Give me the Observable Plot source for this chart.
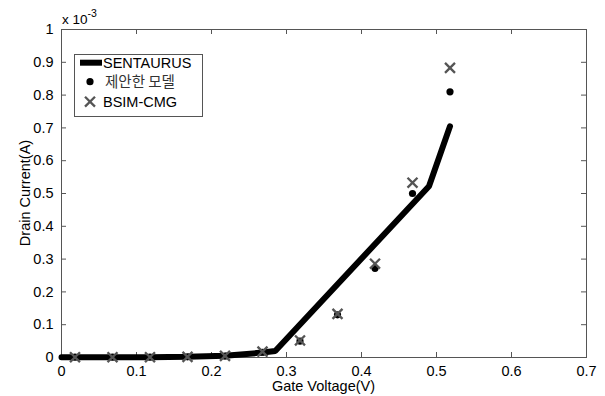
<!DOCTYPE html>
<html><head><meta charset="utf-8">
<script src="https://cdn.jsdelivr.net/npm/d3@7"></script>
<script src="https://cdn.jsdelivr.net/npm/@observablehq/plot@0.6"></script>
<style>
body{margin:0;background:#fff;}
#chart svg{font-family:"Liberation Sans",Arial,sans-serif;}
</style>
</head><body><div id="chart"></div>
<script>
// Gate voltage sample points (V)
const vg = [0.018, 0.068, 0.118, 0.168, 0.218, 0.268, 0.318, 0.368, 0.418, 0.468, 0.518];
// Drain current, units of 1e-3 A
const proposed = [0.001, 0.001, 0.001, 0.002, 0.004, 0.016, 0.05, 0.13, 0.272, 0.5, 0.81];
const bsim     = [0.001, 0.001, 0.001, 0.002, 0.005, 0.018, 0.052, 0.133, 0.286, 0.533, 0.883];
// SENTAURUS curve
const sentVg = [0, 0.018, 0.068, 0.118, 0.168, 0.218, 0.268, 0.285, 0.49, 0.518];
const sentId = [0.001, 0.001, 0.001, 0.001, 0.002, 0.005, 0.015, 0.02, 0.522, 0.705];
// Axes
const xTicks = [0, 0.1, 0.2, 0.3, 0.4, 0.5, 0.6, 0.7];
const yTicks = [0, 0.1, 0.2, 0.3, 0.4, 0.5, 0.6, 0.7, 0.8, 0.9, 1];
const seriesNames = ["SENTAURUS", "제안한 모델", "BSIM-CMG"];
const xLabel = "Gate Voltage(V)";
const yLabel = "Drain Current(A)";

const sent = sentVg.map((v, i) => ({vg: v, id: sentId[i]}));
const prop = vg.map((v, i) => ({vg: v, id: proposed[i]}));
const bs = vg.map((v, i) => ({vg: v, id: bsim[i]}));

const W = 605, H = 396, mL = 61, mR = 19, mT = 29, mB = 39;
const iw = W - mL - mR, ih = H - mT - mB;
const axisColor = "#555";
const FONT = '"Liberation Sans", Arial, sans-serif';

const chart = Plot.plot({
  width: W, height: H,
  marginLeft: mL, marginRight: mR, marginTop: mT, marginBottom: mB,
  style: {fontSize: "14.5px", fontFamily: FONT, background: "#fff", color: "#000"},
  x: {domain: [0, 0.7]},
  y: {domain: [0, 1]},
  marks: [
    Plot.frame({stroke: axisColor, strokeWidth: 1}),
    Plot.tickX(xTicks, {x: d => d, insetTop: ih - 5, stroke: axisColor}),
    Plot.tickX(xTicks, {x: d => d, insetBottom: ih - 5, stroke: axisColor}),
    Plot.tickY(yTicks, {y: d => d, insetRight: iw - 5, stroke: axisColor}),
    Plot.tickY(yTicks, {y: d => d, insetLeft: iw - 5, stroke: axisColor}),
    Plot.axisX({ticks: xTicks, tickSize: 0, tickPadding: 8, tickFormat: d => String(d), label: null}),
    Plot.axisY({ticks: yTicks, tickSize: 0, tickPadding: 8, tickFormat: d => String(d), label: null}),
    Plot.line(sent, {x: "vg", y: "id", stroke: "#000", strokeWidth: 6, strokeLinejoin: "miter"}),
    Plot.dot(prop, {x: "vg", y: "id", r: 3.6, fill: "#000", stroke: "none"}),
    Plot.dot(bs, {x: "vg", y: "id", symbol: "times", r: 4.6, stroke: "#555", strokeWidth: 2.3})
  ]
});
document.getElementById("chart").appendChild(chart);

const svg = d3.select(chart);
// axis labels
svg.append("text").attr("x", mL + iw / 2).attr("y", 391).attr("text-anchor", "middle")
  .attr("font-size", 14.5).attr("font-family", FONT).attr("fill", "#000").text(xLabel);
svg.append("text").attr("transform", `translate(30,${mT + ih / 2}) rotate(-90)`).attr("text-anchor", "middle")
  .attr("font-size", 14.5).attr("font-family", FONT).attr("fill", "#000").text(yLabel);
// exponent
const ex = svg.append("text").attr("x", 62).attr("y", 24).attr("text-anchor", "start")
  .attr("font-size", 13.5).attr("font-family", FONT).attr("fill", "#000");
ex.append("tspan").text("x 10");
ex.append("tspan").attr("dy", -7).attr("font-size", 10.5).text("-3");

// legend
const lg = svg.append("g");
lg.append("rect").attr("x", 74.5).attr("y", 54.5).attr("width", 128).attr("height", 62)
  .attr("fill", "#fff").attr("stroke", axisColor);
const rows = [62.7, 81.7, 101.7];
lg.append("line").attr("x1", 80).attr("x2", 102).attr("y1", rows[0]).attr("y2", rows[0])
  .attr("stroke", "#000").attr("stroke-width", 6);
lg.append("circle").attr("cx", 90).attr("cy", rows[1]).attr("r", 3.6).attr("fill", "#000");
lg.append("path").attr("d", d3.symbol(d3.symbolTimes, Math.PI * 4.6 * 4.6)()).attr("transform", `translate(90,${rows[2]})`)
  .attr("stroke", "#555").attr("stroke-width", 2.3).attr("fill", "none");
seriesNames.forEach((n, i) => {
  lg.append("text").attr("x", i === 1 ? 105 : 103).attr("y", rows[i]).attr("dy", "0.35em")
    .attr("text-anchor", "start")
    .attr("font-size", 14.5)
    .attr("font-family", i === 1 ? '"Noto Sans CJK KR", sans-serif' : FONT)
    .attr("fill", i === 1 ? "#333" : "#000").text(n);
});
</script>
</body></html>
